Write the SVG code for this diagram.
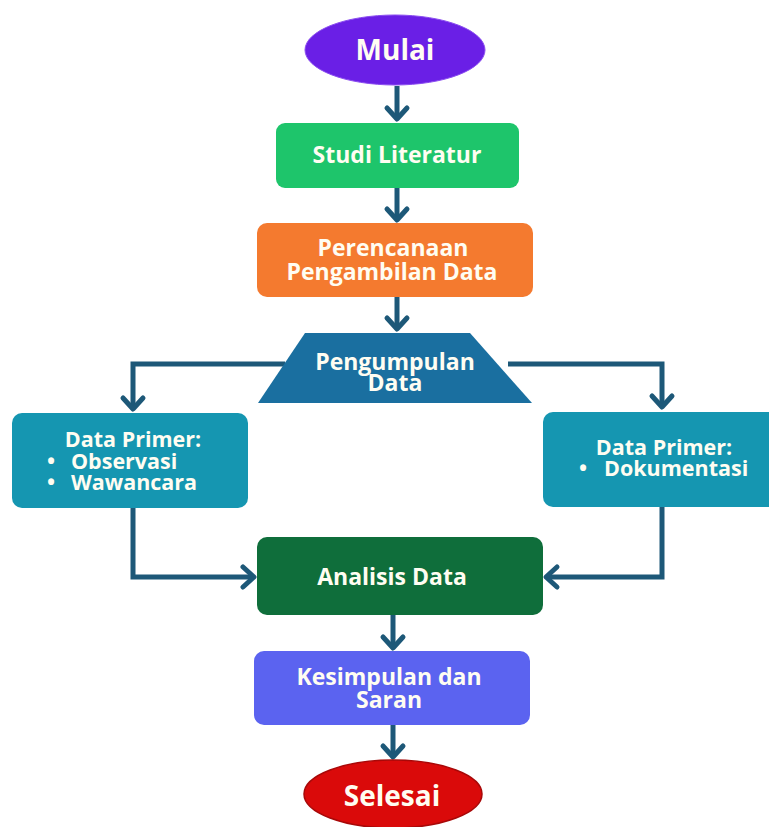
<svg xmlns="http://www.w3.org/2000/svg" width="769" height="827" viewBox="0 0 769 827">
<defs>
<style>
.t{font-family:"Open Sans","Noto Sans","DejaVu Sans",sans-serif;font-weight:bold;fill:#fffdf2;}
.m{font-size:23px;text-anchor:middle;}
.d{font-size:21.5px;}
.c{fill:none;stroke:#1d5878;stroke-width:5;stroke-linejoin:miter;}
.h{fill:none;stroke:#1d5878;stroke-width:5;stroke-linecap:round;stroke-linejoin:round;}
</style>
</defs>
<rect width="769" height="827" fill="#ffffff"/>
<g id="connectors">
<path class="c" d="M397,86 V118"/><path class="h" d="M387,108 L397,119 L407,108"/>
<path class="c" d="M397,188 V220"/><path class="h" d="M387,209 L397,220 L407,209"/>
<path class="c" d="M397,297 V329"/><path class="h" d="M387,318 L397,329 L407,318"/>
<path class="c" d="M285,364 H133 V408"/><path class="h" d="M123,398 L133,409 L143,398"/>
<path class="c" d="M508,364 H662 V406"/><path class="h" d="M652,396 L662,407 L672,396"/>
<path class="c" d="M133,508 V577 H253"/><path class="h" d="M243,567 L254,577 L243,587"/>
<path class="c" d="M662,507 V577 H547"/><path class="h" d="M557,567 L546,577 L557,587"/>
<path class="c" d="M393,615 V647"/><path class="h" d="M383,637 L393,648 L403,637"/>
<path class="c" d="M393,725 V756"/><path class="h" d="M383,746 L393,757 L403,746"/>
</g>
<g id="mulai">
<ellipse cx="395" cy="50" rx="90" ry="35" fill="#6a1fe6" stroke="#8a4cf0" stroke-width="1"/>
<text class="t" x="395" y="60" font-size="28" text-anchor="middle">Mulai</text>
</g>
<g id="studi">
<rect x="276" y="123" width="243" height="65" rx="9" fill="#1ec56b"/>
<text class="t m" x="397" y="163">Studi Literatur</text>
</g>
<g id="perencanaan">
<rect x="257" y="223" width="276" height="74" rx="10" fill="#f47a2f"/>
<text class="t m" x="393" y="256">Perencanaan</text>
<text class="t m" x="392" y="280">Pengambilan Data</text>
</g>
<g id="pengumpulan">
<polygon points="305,333 470,333 532,403 258,403" fill="#1a6fa0"/>
<text class="t m" x="395" y="370">Pengumpulan</text>
<text class="t m" x="395" y="391">Data</text>
</g>
<g id="primer1">
<rect x="12" y="413" width="236" height="95" rx="10" fill="#1596b1"/>
<text class="t d" x="133" y="447" text-anchor="middle">Data Primer:</text>
<text class="t d" x="47" y="469">•</text>
<text class="t d" x="71" y="469">Observasi</text>
<text class="t d" x="47" y="490">•</text>
<text class="t d" x="71" y="490">Wawancara</text>
</g>
<g id="primer2">
<rect x="543" y="412" width="235" height="95" rx="10" fill="#1596b1"/>
<text class="t d" x="664" y="455" text-anchor="middle">Data Primer:</text>
<text class="t d" x="579" y="476">•</text>
<text class="t d" x="604" y="476">Dokumentasi</text>
</g>
<g id="analisis">
<rect x="257" y="537" width="286" height="78" rx="10" fill="#0f6e3b"/>
<text class="t m" x="392" y="585">Analisis Data</text>
</g>
<g id="kesimpulan">
<rect x="254" y="651" width="276" height="74" rx="10" fill="#5b63f0"/>
<text class="t m" x="389" y="685">Kesimpulan dan</text>
<text class="t m" x="389" y="708">Saran</text>
</g>
<g id="selesai">
<ellipse cx="393" cy="794" rx="89" ry="34" fill="#da0a0a" stroke="#a80808" stroke-width="1.5"/>
<text class="t" x="392" y="806" font-size="28" text-anchor="middle">Selesai</text>
</g>
</svg>
